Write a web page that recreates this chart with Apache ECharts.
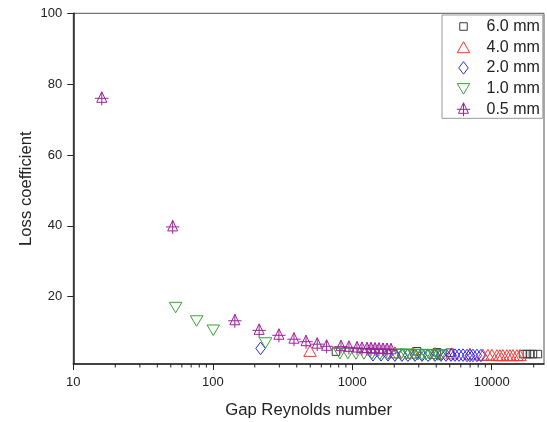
<!DOCTYPE html>
<html><head><meta charset="utf-8">
<script src="https://cdn.jsdelivr.net/npm/echarts@6/dist/echarts.min.js"></script>
<style>html,body{margin:0;padding:0;background:#fff}#c{width:547px;height:422px}</style>
</head><body><div id="c"></div>
<script>
// ---- data ----
const seriesNames = ['6.0 mm', '4.0 mm', '2.0 mm', '1.0 mm', '0.5 mm'];

const re60 = [764, 2911, 4049, 5020, 16740, 17880, 18780, 19740, 21440];
const k60  = [4.5, 4.6, 4.3, 4.2, 3.8, 3.8, 3.8, 3.8, 3.8];

const re40 = [498, 2024, 2723, 3919, 5190, 6980, 8650, 9390, 10030, 10890, 11440, 12020, 12850, 13500, 14190, 15150, 15940];
const k40  = [4.7, 4.3, 4.2, 4.1, 4.0, 3.9, 3.6, 3.6, 3.6, 3.5, 3.5, 3.5, 3.5, 3.5, 3.5, 3.5, 3.5];

const re20 = [220, 1407, 1607, 1803, 2024, 2270, 2507, 2814, 3162, 3491, 3919, 4325, 4700, 5105, 5450, 5825, 6225, 6650, 6980, 7330, 7830, 8370];
const k20  = [5.4, 3.6, 3.6, 3.6, 3.5, 3.5, 3.5, 3.5, 3.5, 3.5, 3.5, 3.5, 3.5, 3.5, 3.5, 3.5, 3.5, 3.4, 3.4, 3.4, 3.4, 3.4];

const re10 = [54.2, 76.6, 100.8, 239, 816, 931, 1063, 1213, 1384, 1579, 1802, 2056, 2234, 2427, 2593, 2770, 2958, 3160, 3375, 3606, 3851, 4114, 4323];
const k10  = [17.0, 13.2, 10.6, 7.0, 4.0, 4.0, 3.9, 3.9, 3.9, 3.8, 3.8, 3.8, 3.8, 3.8, 3.7, 3.7, 3.7, 3.7, 3.7, 3.6, 3.6, 3.6, 3.6];

const re05 = [16, 51.6, 144, 215, 298, 382, 466, 561, 655, 830, 947, 1081, 1174, 1275, 1362, 1455, 1553, 1660, 1773, 1894];
const k05  = [76.0, 39.7, 13.2, 10.5, 9.1, 8.0, 7.3, 6.6, 6.0, 5.9, 5.7, 5.5, 5.4, 5.3, 5.3, 5.2, 5.2, 5.1, 5.1, 5.0];

const xTickValues = [10, 100, 1000, 10000];
const yTickValues = [20, 40, 60, 80, 100];
const xMinorTicks = [20, 30, 40, 50, 60, 70, 80, 90, 200, 300, 400, 500, 600, 700, 800, 900,
                     2000, 3000, 4000, 5000, 6000, 7000, 8000, 9000, 20000];
const X_MIN = 10, X_MAX = 23700, Y_MIN = 1, Y_MAX = 100;

// ---- styles ----
const colors = ['#3a3a3a', '#ff3535', '#2a2aff', '#35a535', '#a020a0'];
const PIN = 'M0,0 M14,14 ';
const symbols = [
  'path://' + PIN + 'M3.25,3.25 L10.75,3.25 L10.75,10.75 L3.25,10.75 Z',
  'path://' + PIN + 'M7,1.5 L13.25,12.5 L0.75,12.5 Z',
  'path://' + PIN + 'M7,0.75 L11.75,7 L7,13.25 L2.25,7 Z',
  'path://' + PIN + 'M0.75,2 L13.25,2 L7,12.5 Z',
  'path://' + PIN + 'M7,0.5 L12,11 L2,11 Z M7,0.5 L7,14 M0.3,7 L13.7,7'
];

const zip = (a, b) => a.map((v, i) => [v, b[i]]);
const dataSets = [zip(re60, k60), zip(re40, k40), zip(re20, k20), zip(re10, k10), zip(re05, k05)];

const FONT = '"Liberation Sans", Arial, sans-serif';
const chart = echarts.init(document.getElementById('c'), null, {renderer: 'canvas'});

const series = dataSets.map((d, i) => ({
  name: seriesNames[i],
  type: 'scatter',
  data: d,
  symbol: symbols[i],
  symbolSize: 14,
  itemStyle: {color: 'rgba(0,0,0,0)', borderColor: colors[i], borderWidth: 1, opacity: 1},
  emphasis: {disabled: true},
  z: 3 + i
}));

series.push({
  type: 'custom',
  silent: true,
  clip: false,
  data: xMinorTicks.map(v => [v, Y_MIN]),
  encode: {x: 0, y: 1},
  renderItem: function (params, api) {
    const p = api.coord([api.value(0), api.value(1)]);
    return {type: 'line', shape: {x1: p[0], y1: p[1], x2: p[0], y2: p[1] + 3.5},
            style: {stroke: '#222', lineWidth: 1}};
  },
  z: 10
});

chart.setOption({
  animation: false,
  backgroundColor: '#fff',
  grid: {left: 73.3, right: 3, top: 13.3, bottom: 58, show: true, borderColor: '#555', borderWidth: 1,
         containLabel: false, outerBoundsMode: 'none'},
  legend: {
    data: seriesNames,
    orient: 'vertical',
    left: 442, top: 15,
    padding: [3.5, 3, 1, 14],
    itemWidth: 36, itemHeight: 14, itemGap: 4.7,
    backgroundColor: '#fff',
    borderColor: '#999', borderWidth: 1, borderRadius: 0,
    selectedMode: false,
    itemStyle: {color: 'rgba(0,0,0,0)', borderWidth: 1},
    textStyle: {fontFamily: FONT, fontSize: 16, color: '#222'}
  },
  xAxis: {
    type: 'log', logBase: 10, min: X_MIN, max: X_MAX,
    name: 'Gap Reynolds number', nameLocation: 'middle', nameGap: 38,
    nameTextStyle: {fontFamily: FONT, fontSize: 16.7, color: '#222'},
    axisLine: {lineStyle: {color: '#222', width: 1.5}},
    axisTick: {inside: false, length: 6, customValues: xTickValues, lineStyle: {color: '#222', width: 1}},
    axisLabel: {fontFamily: FONT, fontSize: 13, color: '#222', margin: 12, customValues: xTickValues,
                formatter: v => String(Math.round(v))},
    splitLine: {show: false},
    minorTick: {show: false}
  },
  yAxis: {
    type: 'value', min: Y_MIN, max: Y_MAX,
    name: 'Loss coefficient', nameLocation: 'middle', nameGap: 38, nameMoveOverlap: false,
    nameTextStyle: {fontFamily: FONT, fontSize: 16.7, color: '#222'},
    axisLine: {show: true, lineStyle: {color: '#222', width: 1.5}},
    axisTick: {show: true, inside: false, length: 6, customValues: yTickValues, lineStyle: {color: '#222', width: 1}},
    axisLabel: {fontFamily: FONT, fontSize: 13, color: '#222', margin: 11, customValues: yTickValues},
    splitLine: {show: false}
  },
  series: series
});
</script>
</body></html>
